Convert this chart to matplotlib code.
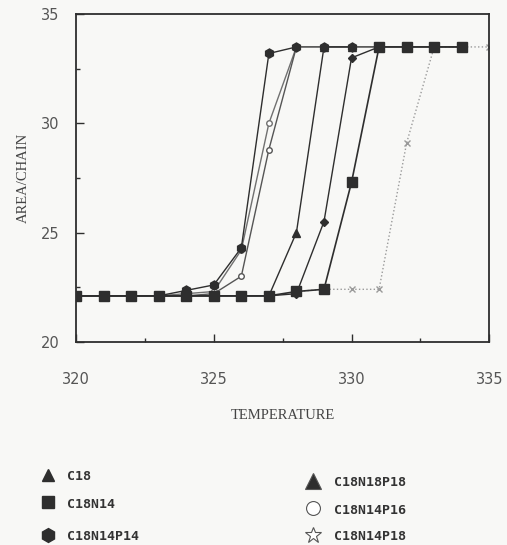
import matplotlib
matplotlib.use("Agg")
import matplotlib.pyplot as plt
from matplotlib.ticker import MultipleLocator

# temperature (x) and area per chain (y)
c18_t = [320, 321, 322, 323, 324, 325, 326, 327, 328, 329, 330, 331, 332, 333, 334]
c18_a = [22.1, 22.1, 22.1, 22.1, 22.1, 22.1, 22.1, 22.1, 25.0, 33.5, 33.5, 33.5, 33.5, 33.5, 33.5]

c18n14_t = [320, 321, 322, 323, 324, 325, 326, 327, 328, 329, 330, 331, 332, 333, 334]
c18n14_a = [22.1, 22.1, 22.1, 22.1, 22.1, 22.1, 22.1, 22.1, 22.3, 22.4, 27.3, 33.5, 33.5, 33.5, 33.5]

p14_t = [320, 321, 322, 323, 324, 325, 326, 327, 328, 329, 330]
p14_a = [22.1, 22.1, 22.1, 22.1, 22.35, 22.6, 24.3, 33.2, 33.5, 33.5, 33.5]

n18p18_t = [320, 321, 322, 323, 324, 325, 326, 327, 328, 329, 330, 331]
n18p18_a = [22.1, 22.1, 22.1, 22.1, 22.1, 22.1, 22.1, 22.1, 22.2, 25.5, 33.0, 33.5]

p16_t = [323, 324, 325, 326, 327, 328]
p16_a = [22.1, 22.1, 22.2, 23.0, 28.8, 33.5]

p18_t = [323, 324, 325, 326, 327, 328]
p18_a = [22.1, 22.2, 22.3, 24.2, 30.0, 33.5]

extra_t = [328, 329, 330, 331, 332, 333, 334, 335]
extra_a = [22.3, 22.4, 22.4, 22.4, 29.1, 33.5, 33.5, 33.5]

ink = "#2e2e2e"
bg = "#f8f8f6"

fig = plt.figure(figsize=(5.07, 5.45), dpi=100, facecolor=bg)
ax = fig.add_axes([0.150, 0.373, 0.815, 0.601], facecolor=bg)

ax.plot(extra_t, extra_a, ls=":", color="#9a9a9a", lw=1.0, marker="x", ms=4, mew=1.0)
ax.plot(p18_t, p18_a, color="#707070", lw=1.0, marker="o", ms=4, mfc="white", mec="#707070")
ax.plot(p16_t, p16_a, color="#555555", lw=1.0, marker="o", ms=4, mfc="white", mec="#555555")
ax.plot(c18_t, c18_a, color=ink, lw=1.0, marker="^", ms=5.5)
ax.plot(n18p18_t, n18p18_a, color=ink, lw=1.0, marker="D", ms=4.5)
ax.plot(p14_t, p14_a, color=ink, lw=1.0, marker="h", ms=6.5)
ax.plot(c18n14_t, c18n14_a, color=ink, lw=1.2, marker="s", ms=6.5)

ax.set_xlim(320, 335)
ax.set_ylim(20, 35)
ax.xaxis.set_major_locator(MultipleLocator(5))
ax.xaxis.set_minor_locator(MultipleLocator(2.5))
ax.yaxis.set_major_locator(MultipleLocator(5))
ax.yaxis.set_minor_locator(MultipleLocator(2.5))
ax.tick_params(which="major", direction="in", length=6, width=1, color=ink,
               labelsize=10.5, labelcolor="#555555", pad=12)
ax.tick_params(axis="x", which="major", pad=22)
ax.tick_params(which="minor", direction="in", length=3, width=1, color=ink)
for s in ax.spines.values():
    s.set_linewidth(1.3)
    s.set_color(ink)

ax.set_xlabel("TEMPERATURE", family="Liberation Serif", fontsize=10.5, color="#444444", labelpad=16)
ax.set_ylabel("AREA/CHAIN", family="Liberation Serif", fontsize=10.5, color="#444444", labelpad=8)

# legend drawn as two free columns below the plot
left = [("^", "C18", 8), ("s", "C18N14", 8), ("h", "C18N14P14", 10)]
right = [("^", "C18N18P18", 11), ("o", "C18N14P16", 10), ("*", "C18N14P18", 12)]
lfont = dict(family="DejaVu Sans Mono", fontsize=9.5, weight="bold", color="#333333", va="center")
for (m, name, size), y in zip(left, [0.125, 0.075, 0.015]):
    fig.lines.append(plt.Line2D([0.095], [y + 0.004], marker=m, ms=size, color=ink,
                                transform=fig.transFigure, ls=""))
    fig.text(0.132, y, name, **lfont)
for (m, name, size), y in zip(right, [0.114, 0.064, 0.015]):
    face = ink if m == "^" else "white"
    fig.lines.append(plt.Line2D([0.617], [y + 0.004], marker=m, ms=size, color="#555555",
                                mfc=face, mew=0.8, transform=fig.transFigure, ls=""))
    fig.text(0.658, y, name, **lfont)

fig.savefig("out.png", dpi=100, facecolor=bg)
